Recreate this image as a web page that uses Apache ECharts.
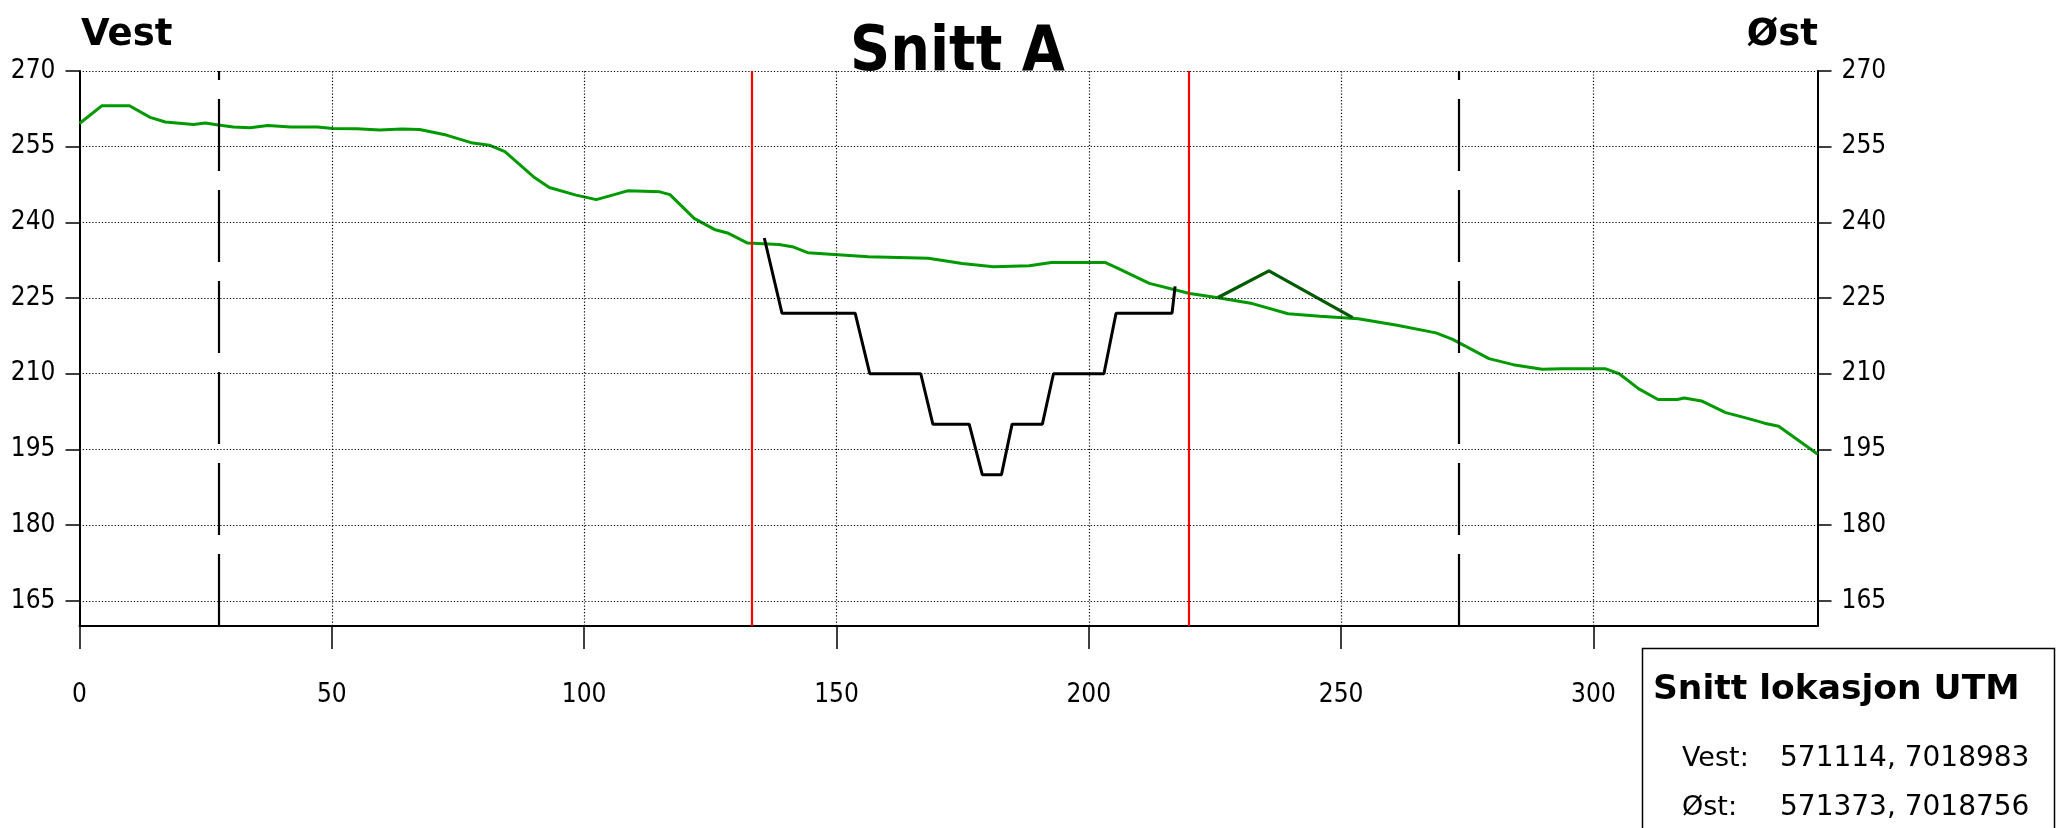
<!DOCTYPE html>
<html>
<head>
<meta charset="utf-8">
<title>Snitt A</title>
<script src="https://cdn.jsdelivr.net/npm/echarts@6/dist/echarts.min.js"></script>
<style>
  html, body { margin: 0; padding: 0; background: #fff; }
  #chart { width: 2057px; height: 828px; }
</style>
</head>
<body>
<div id="chart"></div>
<script>
// terrengprofil: avstand (m) og høyde (moh)
var terrengX = [0, 4.4, 9.9, 14.0, 17.0, 22.6, 24.9, 27.5, 30.5, 33.8, 37.3, 41.8, 47.1, 50.2, 55.0,
  59.5, 63.9, 67.4, 72.7, 77.6, 81.2, 84.3, 90.0, 93.1, 98.4, 102.4, 108.6, 115.0, 117.0, 121.8,
  125.8, 128.4, 132.4, 138.6, 141.5, 144.3, 156.3, 168.2, 174.9, 181.1, 188.2, 192.6, 203.2, 205.9,
  212.0, 220.0, 225.3, 232.4, 239.5, 242.0, 245.8, 253.4, 261.1, 268.8, 272.1, 279.3, 284.1, 289.8,
  293.7, 302.3, 305.1, 309.0, 312.8, 316.6, 318.0, 321.4, 326.2, 330.0, 333.9, 336.7, 344.4];
var terrengY = [259.6, 263.1, 263.1, 260.8, 259.9, 259.4, 259.7, 259.3, 258.9, 258.75, 259.2, 258.9, 258.9, 258.6, 258.55,
  258.3, 258.5, 258.4, 257.3, 255.8, 255.3, 254.0, 249.0, 246.9, 245.4, 244.5, 246.25, 246.05, 245.5, 240.8,
  238.6, 237.9, 235.9, 235.6, 235.1, 234.0, 233.2, 232.9, 231.85, 231.2, 231.4, 232.05, 232.05, 230.85,
  227.9, 225.9, 225.1, 223.9, 221.9, 221.7, 221.4, 220.9, 219.6, 218.1, 216.8, 213.0, 211.8, 210.9,
  211.0, 211.0, 210.0, 207.0, 204.9, 204.9, 205.2, 204.6, 202.3, 201.3, 200.2, 199.6, 194.1];

// skjæring (svart trappeprofil)
var skjaeringX = [135.7, 139.2, 153.7, 156.6, 166.7, 169.1, 176.3, 178.9, 182.7, 184.8, 190.8, 193.0, 203.0, 205.4, 216.5, 217.1];
var skjaeringY = [236.9, 222, 222, 210, 210, 200, 200, 190, 190, 200, 200, 210, 210, 222, 222, 227.3];

// fylling (mørkegrønn)
var fyllingX = [225.6, 235.7, 252.3];
var fyllingY = [225.1, 230.4, 221.1];

var xTicks = [0, 50, 100, 150, 200, 250, 300];
var yTicks = [165, 180, 195, 210, 225, 240, 255, 270];
var grenseLinjer = [27.5, 273.4];  // svarte stiplede
var rodeLinjer = [133.3, 219.9];

function par(xs, ys) {
  return xs.map(function (x, i) { return [x, ys[i]]; });
}

var fontSmal = "'DejaVu Sans Condensed', 'DejaVu Sans'";
var chart = echarts.init(document.getElementById('chart'));

var yAxisBase = {
  type: 'value',
  min: 160,
  max: 270,
  axisLine: { show: true, lineStyle: { color: '#000', width: 2 } },
  axisTick: { show: true, length: 14, customValues: yTicks, lineStyle: { color: '#000', width: 1.5 } },
  axisLabel: { customValues: yTicks, margin: 24, color: '#000', fontSize: 26, fontFamily: fontSmal },
  splitLine: { show: false }
};

var option = {
  animation: false,
  backgroundColor: '#fff',
  grid: { left: 79.5, right: 239.5, top: 71, bottom: 202 },
  xAxis: {
    type: 'value',
    min: 0,
    max: 344.4,
    interval: 50,
    axisLine: { show: true, onZero: false, lineStyle: { color: '#000', width: 2 } },
    axisTick: { show: true, length: 23, customValues: xTicks, lineStyle: { color: '#000', width: 1.5 } },
    axisLabel: { customValues: xTicks, margin: 56, color: '#000', fontSize: 26, fontFamily: fontSmal },
    splitLine: { show: false }
  },
  yAxis: [
    Object.assign({}, yAxisBase, { position: 'left' }),
    Object.assign({}, yAxisBase, { position: 'right' })
  ],
  series: [
    {
      // rutenett
      type: 'line',
      data: [],
      z: 1,
      silent: true,
      markLine: {
        silent: true,
        symbol: 'none',
        label: { show: false },
        lineStyle: { color: '#000', width: 1.2, type: [1.2, 2] },
        data: yTicks.map(function (v) { return { yAxis: v }; })
          .concat(xTicks.filter(function (v) { return v > 0; }).map(function (v) { return { xAxis: v }; }))
      }
    },
    {
      type: 'line',
      data: [],
      z: 2,
      silent: true,
      markLine: {
        silent: true,
        symbol: 'none',
        label: { show: false },
        lineStyle: { color: '#000', width: 2.2, type: [72, 19] },
        data: grenseLinjer.map(function (v) { return { xAxis: v }; })
      }
    },
    {
      type: 'line',
      data: [],
      z: 2,
      silent: true,
      markLine: {
        silent: true,
        symbol: 'none',
        label: { show: false },
        lineStyle: { color: '#ff0000', width: 2.2, type: 'solid' },
        data: rodeLinjer.map(function (v) { return { xAxis: v }; })
      }
    },
    {
      name: 'Terreng',
      type: 'line',
      z: 3,
      data: par(terrengX, terrengY),
      symbol: 'none',
      lineStyle: { color: '#009a00', width: 3 }
    },
    {
      name: 'Skjæring',
      type: 'line',
      z: 4,
      data: par(skjaeringX, skjaeringY),
      symbol: 'none',
      lineStyle: { color: '#000', width: 3 }
    },
    {
      name: 'Fylling',
      type: 'line',
      z: 4,
      data: par(fyllingX, fyllingY),
      symbol: 'none',
      lineStyle: { color: '#005a00', width: 3.2 }
    }
  ],
  graphic: [
    { type: 'text', style: { text: 'Snitt A', x: 957.5, y: 54, align: 'center', verticalAlign: 'middle',
        font: "bold 62px 'DejaVu Sans Condensed', 'DejaVu Sans'", fill: '#000' } },
    { type: 'text', style: { text: 'Vest', x: 81, y: 35, align: 'left', verticalAlign: 'middle',
        font: "bold 37px 'DejaVu Sans'", fill: '#000' } },
    { type: 'text', style: { text: 'Øst', x: 1818, y: 35, align: 'right', verticalAlign: 'middle',
        font: "bold 37px 'DejaVu Sans'", fill: '#000' } },
    { type: 'rect', shape: { x: 1642.5, y: 648.5, width: 412, height: 200 },
      style: { fill: '#fff', stroke: '#000', lineWidth: 1.5 } },
    { type: 'text', style: { text: 'Snitt lokasjon UTM', x: 1653, y: 690, align: 'left', verticalAlign: 'middle',
        font: "bold 34.5px 'DejaVu Sans'", fill: '#000' } },
    { type: 'text', style: { text: 'Vest:', x: 1682, y: 758.5, align: 'left', verticalAlign: 'middle',
        font: "27px 'DejaVu Sans'", fill: '#000' } },
    { type: 'text', style: { text: '571114, 7018983', x: 1780, y: 758.5, align: 'left', verticalAlign: 'middle',
        font: "28px 'DejaVu Sans'", fill: '#000' } },
    { type: 'text', style: { text: 'Øst:', x: 1682, y: 807.5, align: 'left', verticalAlign: 'middle',
        font: "27px 'DejaVu Sans'", fill: '#000' } },
    { type: 'text', style: { text: '571373, 7018756', x: 1780, y: 807.5, align: 'left', verticalAlign: 'middle',
        font: "28px 'DejaVu Sans'", fill: '#000' } }
  ]
};

chart.setOption(option);
</script>
</body>
</html>
